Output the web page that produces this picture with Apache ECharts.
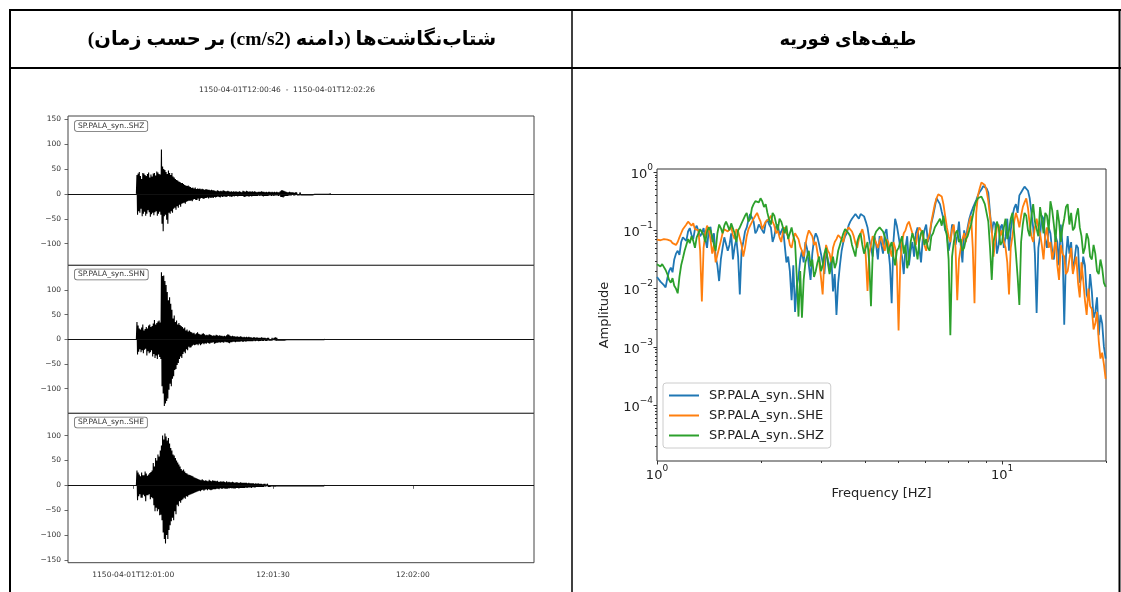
<!DOCTYPE html>
<html><head><meta charset="utf-8">
<script src="https://cdn.jsdelivr.net/npm/echarts@6/dist/echarts.min.js"></script>
<style>html,body{margin:0;padding:0;background:#fff}#c{width:1121px;height:592px}</style>
</head><body><div id="c"></div>
<script>
// ---------------- texts ----------------
const HEADER_LEFT = 'شتاب‌نگاشت‌ها (دامنه (cm/s2) بر حسب زمان)';
const HEADER_RIGHT = 'طیف‌های فوریه';
const SEIS_TITLE = '1150-04-01T12:00:46  -  1150-04-01T12:02:26';
const TRACE_NAMES = ['SP.PALA_syn..SHZ', 'SP.PALA_syn..SHN', 'SP.PALA_syn..SHE'];
const SPEC_NAMES = ['SP.PALA_syn..SHN', 'SP.PALA_syn..SHE', 'SP.PALA_syn..SHZ'];

// ---------------- seismograms (seconds after 12:00:00) ----------------
const TIME_START = 46, TIME_END = 146;
const TIME_TICKS = [60, 90, 120];
const TIME_TICK_LABELS = ['1150-04-01T12:01:00', '12:01:30', '12:02:00'];
const AMP_TICKS = [-150, -100, -50, 0, 50, 100, 150];
const PANEL_LIMITS = [[-143.5, 156.5], [-149.9, 149.9], [-155.5, 144.8]];
const SAMPLE_START = 60.675, SAMPLE_STEP = 0.125;
const SHZ_ACC = [0,
 38,-42,41,-35,44,-38,36,-30,30,-45,42,-40,41,-36,38,-44,36,-40,40,-33,43,-37,33,-46,39,-41,35,-38,41,-43,42,-37,37,-35,45,-44,43,-40,40,-36,39,-42,
 89,-60,55,-75,
 50,-45,48,-42,44,-52,40,-60,47,-38,42,-40,38,-35,42,-38,
 35,-30,33,-28,30,-32,28,-25,27,-28,25,-22,24,-26,22,-20,22,-19,20,-18,18,-20,17,-16,16,-15,17,-14,15,-14,
 14,-13,12,-15,13,-11,11,-10,13,-12,10,-12,11,-9,10,-14,11,-9,9,-8,10,-9,9,-10,8,-8,9,-8,9,-7,8,-9,8,-7,7,-8,8,-7,7,-8,
 7,-6,6,-7,5,-6,7,-5,6,-6, 5,-7,6,-5,5,-6,7,-5,6,-5, 5,-6,5,-5,6,-4,5,-5,4,-5, 5,-6,4,-4,5,-5,4,-4,5,-4,
 4,-5,4,-4,5,-4,4,-4,3,-4, 6,-5,5,-6,4,-5,6,-4,5,-5, 4,-5,5,-4,4,-5,5,-4,4,-4, 5,-4,4,-4,3,-4,4,-3,4,-4,
 4,-3,5,-4,4,-5,4,-4,3,-4, 4,-4,3,-4,4,-3,4,-3,3,-4, 4,-3,3,-4,4,-3,3,-3,4,-3, 3,-4,3,-3,
 5,-6,7,-6,7,-7,6,-5,5,-4,4,-4,
 3,-4,3,-3,4,-3,3,-3,3,-2, 3,-3,2,-3,3,-2,3,-2,2,-3, 2,-2,3,-2,2,-2,2,-2,2,-2, 2,-2,2,-1,2,-2,2,-1,1,-2,
 2,-1,1,-2,1,-1,2,-1,1,-1, 1,-1,1,-1,1,-1,1,-1,1,-1, 1,-1,1,-1,1,-1,1,-1,1,-1, 1,-1,1,-1,1,
 0];
const SHN_ACC = [0,
 35,-31,28,-25,22,-20,20,-26,24,-22,30,-28,18,-21,21,-19,25,-33,22,-24,28,-28,30,-26,25,-22,27,-35,32,-30,39,-38,30,-33,33,-40,36,-31,38,-36,34,-40,
 136,-95,128,-110,129,-135,118,-130,110,-125,96,-120,79,-102,85,-90,72,-95,60,-80,
 42,-75,48,-62,35,-60,38,-52,30,-48,33,-40,29,-35,27,-38,25,-30,
 22,-25,24,-28,18,-20,20,-22,16,-15,18,-17,15,-16,14,-13,
 12,-11,13,-12,10,-11,12,-10,14,-12, 11,-9,10,-12,9,-10,11,-8,12,-10, 10,-8,8,-9,9,-7,8,-8,10,-9, 9,-7,8,-7,7,-6,8,-9,7,-8,
 9,-7,8,-7,7,-6,8,-7,7,-6, 7,-6,6,-7,7,-5,6,-6,8,-6, 10,-7,9,-8,7,-6,6,-6,7,-5, 6,-5,6,-6,5,-5,6,-5,5,-5,
 5,-5,6,-4,5,-5,4,-5,5,-4, 4,-5,5,-4,4,-4,5,-4,4,-4, 4,-4,3,-4,4,-3,4,-4,3,-3, 4,-3,3,-4,3,-3,3,-3,4,-3,
 3,-3,3,-2,3,-3,2,-3,3,-2, 3,-2,2,-3,2,-2,3,-2,2,-2, 3,-2,4,-3,3,-2,2,-2,2,-2, 2,-2,2,-2,2,-1,2,-2,2,-1,
 2,-1,1,-2,2,-1,1,-1,2,-1, 1,-1,1,-1,2,-1,1,-1,1,-1, 1,-1,1,-1,1,-1,1,-1,1,-1, 1,-1,1,-1,1,-1,1,-1,1,-1,
 1,-1,1,-1,1,-1,1,-1,1,-1, 1,-1,1,-1,1,-1,1,-1,1,-1, 1,-1,1,-1,1,-1,1,
 0];
const SHE_ACC = [0,
 30,-30,26,-22,22,-18,18,-25,26,-25,20,-19,20,-22,28,-32,24,-20,19,-20,22,-18,25,-28,27,-24,30,-26,
 45,-40,38,-52,55,-45,50,-52,62,-48,58,-60,70,-59,80,-70,
 100,-95,92,-108,104,-117,98,-100,90,-108,95,-90,
 84,-80,75,-72,70,-65,62,-70,60,-52,55,-58,
 50,-39,46,-42,42,-32,38,-35,33,-30,30,-28,32,-25,28,-27,
 25,-22,24,-23,22,-20,21,-19,20,-18,19,-17,18,-16,16,-15,15,-14,14,-13,
 13,-12,12,-11,11,-12,10,-10,12,-9, 10,-11,9,-9,10,-8,9,-10,8,-8, 11,-9,9,-10,8,-9,10,-8,9,-8, 9,-8,8,-7,9,-7,7,-8,7,-6,
 8,-7,7,-7,8,-6,7,-7,6,-7, 8,-7,6,-6,7,-6,6,-5,6,-6, 7,-6,6,-6,5,-6,6,-5,6,-5, 5,-6,5,-5,6,-5,5,-5,5,-5,
 5,-5,5,-4,5,-5,4,-4,5,-4, 4,-4,4,-5,4,-3,4,-4,3,-4, 4,-3,3,-3,4,-3,3,-3,3,-3, 3,-3,2,-3,3,-2,3,-2,2,-2,
 3,-2,2,-2,2,-2,2,-2,2,-1, 2,-2,1,-2,2,-1,2,-1,1,-1, 2,-1,1,-2,1,-1,2,-1,1,-1, 1,-1,1,-1,1,-1,1,-1,1,-1,
 1,-1,1,-1,1,-1,1,-1,1,-1, 1,-1,1,-1,1,-1,1,-1,1,-1, 1,-1,1,-1,1,-1,1,-1,1,-1, 1,-1,1,-1,1,-1,1,-1,1,-1,
 1,-1,1,-1,1,-1,1,-1,1,-1, 1,-1,1,-1,1,-1,1,-1,1,
 0];
const TRACES = [SHZ_ACC, SHN_ACC, SHE_ACC];

// ---------------- Fourier spectra (log10 amplitude on grid f = 10^(k*step)) ----------------
const FREQ_MIN = 1, FREQ_MAX = 20, SPEC_LOGF_STEP = 0.005;
const AMP_MIN = 1.1e-5, AMP_MAX = 1.13;
const FREQ_TICKS = [1, 10];
const FREQ_MINOR_TICKS = [2, 3, 4, 5, 6, 7, 8, 9, 20];
const AMP_LOG_TICKS = [1e-4, 1e-3, 1e-2, 1e-1, 1];
const SHN_LOG_AMP = [
-1.80,-1.80,-1.88,-1.90,-1.94,-1.98,-1.82,-1.70,-1.64,-1.72,-1.50,-1.40,-1.35,-1.42,-1.20,-1.12,-1.10,-1.18,-1.02,-0.96,
-1.08,-1.15,-0.98,-0.92,-0.93,-1.10,-1.05,-0.96,-1.15,-1.30,-1.00,-0.94,-1.20,-1.05,-1.45,-1.60,-1.87,-1.50,-1.30,-1.12,
-1.10,-1.35,-1.25,-1.05,-1.50,-1.28,-1.15,-1.45,-2.10,-1.35,-1.20,-1.02,-0.95,-0.82,-0.72,-0.78,-0.85,-1.05,-1.00,-0.90,
-0.88,-1.00,-1.05,-0.86,-0.82,-0.90,-0.95,-1.20,-1.10,-0.94,-0.90,-1.08,-1.02,-0.95,-1.25,-1.55,-1.45,-1.70,-2.20,-1.60,
-2.40,-1.95,-1.80,-1.50,-1.35,-1.55,-1.20,-1.32,-1.60,-1.85,-1.40,-1.15,-1.05,-1.12,-1.25,-1.40,-1.55,-1.75,-1.35,-1.50,
-1.70,-1.45,-2.05,-1.75,-2.45,-1.90,-1.60,-1.35,-1.20,-1.10,-1.05,-0.92,-0.85,-0.80,-0.78,-0.72,-0.74,-0.80,-0.72,-0.75,
-0.76,-0.85,-0.95,-1.15,-1.30,-1.45,-1.10,-1.25,-1.50,-1.10,-1.25,-1.40,-1.05,-0.98,-1.30,-1.60,-2.25,-1.20,-0.80,-0.92,
-1.10,-1.30,-1.45,-1.75,-1.30,-1.10,-1.60,-1.35,-1.20,-1.45,-1.05,-0.95,-1.30,-1.55,-1.15,-1.00,-0.90,-1.20,-1.10,-0.88,
-0.75,-0.60,-0.45,-0.42,-0.55,-0.68,-0.80,-1.00,-1.05,-1.35,-1.20,-0.90,-0.95,-1.25,-1.10,-0.85,-1.25,-1.55,-1.00,-1.15,
-0.95,-0.80,-0.70,-0.62,-0.55,-0.48,-0.40,-0.34,-0.30,-0.24,-0.22,-0.28,-0.35,-0.70,-1.05,-0.85,-0.90,-1.40,-1.25,-0.95,
-0.90,-1.30,-1.10,-0.80,-1.35,-1.00,-0.75,-0.62,-0.55,-0.70,-0.40,-0.35,-0.30,-0.25,-0.22,-0.32,-0.45,-0.70,-0.95,-1.40,
-2.42,-1.30,-1.10,-0.75,-0.80,-1.15,-1.30,-0.95,-1.05,-1.35,-1.50,-1.10,-1.20,-1.60,-0.90,-1.25,-2.62,-1.45,-1.10,-1.40,
-1.20,-1.70,-1.50,-1.25,-1.30,-1.90,-1.80,-1.45,-1.60,-2.10,-2.20,-1.75,-2.05,-2.50,-2.40,-2.15,-2.80,-2.45,-2.60,-3.00,
-3.20];
const SHE_LOG_AMP = [
-1.16,-1.15,-1.17,-1.16,-1.15,-1.17,-1.16,-1.14,-1.18,-1.22,-1.24,-1.25,-1.20,-1.12,-1.05,-0.98,-0.95,-0.90,-0.85,-0.88,
-0.92,-0.88,-0.98,-0.95,-1.00,-1.35,-2.22,-1.30,-1.05,-0.92,-0.98,-1.15,-1.40,-1.25,-1.55,-1.42,-1.30,-1.18,-1.05,-0.98,
-0.95,-1.02,-1.00,-0.94,-1.08,-1.15,-0.98,-1.02,-1.05,-1.25,-1.45,-1.30,-1.10,-0.98,-0.92,-0.86,-0.80,-0.75,-0.70,-0.78,
-0.85,-0.98,-0.95,-0.85,-0.88,-0.80,-0.75,-0.85,-0.92,-1.05,-1.00,-1.12,-1.20,-1.02,-0.95,-1.05,-1.10,-1.25,-1.30,-1.15,
-1.05,-1.10,-1.15,-1.28,-1.35,-1.45,-1.25,-1.10,-1.00,-1.05,-1.10,-1.25,-1.20,-1.38,-1.55,-1.80,-2.10,-1.50,-1.25,-1.35,
-1.40,-1.55,-1.30,-1.20,-1.15,-1.08,-1.05,-1.15,-1.20,-1.05,-1.00,-0.95,-0.92,-1.02,-1.10,-1.22,-1.30,-1.15,-1.05,-0.98,
-1.10,-1.45,-2.04,-1.40,-1.25,-1.10,-1.15,-1.22,-1.30,-1.18,-1.10,-1.25,-1.35,-1.15,-1.20,-1.32,-1.45,-1.20,-1.30,-1.60,
-2.72,-1.55,-1.20,-1.05,-1.00,-0.90,-0.85,-0.95,-1.05,-1.15,-1.25,-1.05,-0.95,-1.00,-1.10,-1.25,-1.35,-1.15,-1.05,-0.85,
-0.70,-0.55,-0.45,-0.38,-0.36,-0.42,-0.55,-0.75,-0.95,-1.10,-1.20,-1.00,-0.90,-1.30,-2.20,-1.50,-1.30,-1.15,-1.05,-1.20,
-1.00,-0.85,-0.75,-1.30,-2.25,-0.70,-0.40,-0.28,-0.18,-0.20,-0.22,-0.32,-0.50,-0.75,-1.00,-1.45,-1.20,-0.95,-0.90,-1.10,
-1.00,-1.20,-1.30,-1.55,-2.10,-1.30,-1.10,-0.85,-0.70,-0.80,-0.95,-0.75,-0.60,-0.52,-0.45,-0.62,-0.90,-1.10,-1.20,-0.95,
-0.80,-0.95,-1.05,-1.25,-1.50,-1.10,-0.95,-1.30,-1.20,-1.50,-1.35,-1.15,-1.60,-1.85,-1.25,-1.40,-1.45,-1.75,-1.70,-1.50,
-1.30,-1.75,-1.60,-1.45,-1.90,-2.15,-1.55,-1.85,-2.20,-2.45,-2.00,-2.30,-2.35,-2.70,-2.60,-2.40,-2.90,-3.20,-3.10,-3.30,
-3.55];
const SHZ_LOG_AMP = [
-1.58,-1.60,-1.62,-1.58,-1.60,-1.68,-1.75,-1.85,-1.90,-1.82,-1.95,-2.00,-2.08,-1.80,-1.60,-1.48,-1.35,-1.25,-1.15,-1.22,
-1.10,-1.18,-1.30,-1.12,-1.05,-0.98,-1.00,-1.08,-1.20,-1.02,-0.95,-1.00,-1.10,-1.25,-1.35,-1.05,-0.90,-0.96,-1.05,-0.92,
-0.85,-0.92,-1.00,-0.88,-0.90,-1.05,-1.20,-1.00,-0.95,-0.88,-0.85,-0.75,-0.70,-0.85,-0.80,-0.62,-0.55,-0.50,-0.48,-0.52,
-0.45,-0.50,-0.60,-0.55,-0.70,-0.82,-0.90,-0.70,-0.75,-0.88,-1.00,-0.80,-0.85,-0.95,-1.05,-0.92,-1.15,-1.05,-0.95,-1.10,
-1.20,-1.80,-2.48,-1.70,-2.50,-1.85,-1.55,-1.45,-1.35,-1.62,-1.50,-1.80,-1.70,-1.55,-1.45,-1.70,-1.60,-1.40,-1.30,-1.55,
-1.75,-1.60,-1.45,-1.65,-1.55,-1.35,-1.25,-1.15,-1.05,-0.98,-1.00,-1.05,-1.10,-1.25,-1.35,-1.45,-1.20,-1.10,-1.05,-1.25,
-1.40,-1.30,-1.20,-1.55,-2.30,-1.40,-1.10,-1.02,-1.00,-0.95,-0.98,-1.02,-1.05,-1.20,-1.40,-1.28,-1.20,-1.45,-1.60,-1.35,
-1.30,-1.20,-1.10,-1.40,-1.25,-1.65,-1.50,-1.20,-1.05,-1.15,-1.30,-1.50,-1.20,-1.05,-1.00,-1.25,-1.15,-1.30,-1.35,-1.10,
-1.05,-0.95,-0.90,-0.85,-0.80,-0.92,-0.75,-0.95,-1.10,-1.50,-2.80,-1.45,-1.20,-1.05,-1.00,-1.20,-1.15,-1.35,-1.30,-1.15,
-1.10,-1.00,-0.90,-0.75,-0.60,-0.50,-0.45,-0.43,-0.42,-0.48,-0.55,-0.70,-0.85,-1.30,-1.85,-1.20,-1.05,-0.85,-0.95,-1.25,
-1.20,-0.95,-0.80,-1.15,-1.00,-0.80,-0.70,-1.05,-1.40,-1.80,-2.28,-1.20,-0.90,-0.70,-0.75,-1.00,-1.10,-0.75,-0.55,-0.85,
-0.85,-1.10,-0.60,-0.80,-1.05,-0.70,-0.75,-1.00,-0.50,-0.65,-0.90,-1.20,-0.65,-0.85,-1.20,-0.95,-0.80,-0.60,-0.55,-0.90,
-0.70,-1.00,-0.95,-0.75,-0.62,-0.95,-1.10,-1.40,-1.30,-1.05,-1.15,-1.45,-1.50,-1.25,-1.40,-1.70,-1.75,-1.50,-1.65,-1.90,
-1.97];
const SPECTRA = [SHN_LOG_AMP, SHE_LOG_AMP, SHZ_LOG_AMP];
const SPEC_COLORS = ['#1f77b4', '#ff7f0e', '#2ca02c'];

// ---------------- build ----------------
const AMP_MINOR_TICKS = [];
for (let e = -5; e <= -1; e++) for (let m = 2; m <= 9; m++) AMP_MINOR_TICKS.push(+(m * Math.pow(10, e)).toPrecision(3));

function traceData(arr) {
  return arr.map((v, i) => [SAMPLE_START + i * SAMPLE_STEP, v]);
}
function specData(arr) {
  return arr.map((v, k) => [Math.pow(10, k * SPEC_LOGF_STEP), Math.pow(10, v)]);
}
const SMALL = {fontSize: 7.5, color: '#333', fontFamily: 'DejaVu Sans'};
const logFmt = v => { const e = Math.round(Math.log10(v)); return '{b|10}{s|' + (e < 0 ? '\u2212' : '') + Math.abs(e) + '}'; };
const logRich = {b: {fontSize: 13, lineHeight: 18, verticalAlign: 'bottom', color: '#222', fontFamily: 'DejaVu Sans'},
                 s: {fontSize: 9, lineHeight: 18, verticalAlign: 'top', color: '#222', fontFamily: 'DejaVu Sans'}};

const PANEL_TOPS = [116, 265.3, 413.3], PANEL_BOTTOMS = [265.3, 413.3, 562.7];
const grids = [], xAxes = [], yAxes = [], series = [];
for (let p = 0; p < 3; p++) {
  grids.push({left: 68, top: PANEL_TOPS[p], width: 466, height: PANEL_BOTTOMS[p] - PANEL_TOPS[p],
    show: true, borderColor: '#444', borderWidth: 1, backgroundColor: 'transparent', outerBoundsMode: 'none'});
  const last = p === 2;
  xAxes.push({type: 'value', gridIndex: p, min: TIME_START, max: TIME_END,
    axisLine: {show: false}, splitLine: {show: false},
    axisTick: {show: last, customValues: TIME_TICKS, length: 3.5, lineStyle: {color: '#444', width: 0.8}},
    axisLabel: Object.assign({show: last, customValues: TIME_TICKS, margin: 8,
      formatter: v => TIME_TICK_LABELS[TIME_TICKS.indexOf(v)]}, SMALL)});
  yAxes.push({type: 'value', gridIndex: p, min: PANEL_LIMITS[p][0], max: PANEL_LIMITS[p][1],
    axisLine: {show: false}, splitLine: {show: false},
    axisTick: {show: true, customValues: AMP_TICKS, length: 3.5, lineStyle: {color: '#444', width: 0.8}},
    axisLabel: Object.assign({customValues: AMP_TICKS, margin: 7,
      formatter: v => String(v).replace('-', '\u2212')}, SMALL)});
  series.push({type: 'line', name: TRACE_NAMES[p] + ' trace', xAxisIndex: p, yAxisIndex: p,
    data: traceData(TRACES[p]), symbol: 'none', sampling: null,
    lineStyle: {color: '#000', width: 1.1}, itemStyle: {color: '#000'}, silent: true, z: 2,
    markLine: {silent: true, symbol: ['none', 'none'], label: {show: false}, animation: false,
      lineStyle: {color: '#111', width: 1, type: 'solid'}, data: [{yAxis: 0}]}});
}
grids.push({left: 657, top: 169, width: 449, height: 292, show: true, borderColor: '#333', borderWidth: 1,
  backgroundColor: 'transparent', outerBoundsMode: 'none'});
xAxes.push({type: 'log', logBase: 10, gridIndex: 3, min: FREQ_MIN, max: FREQ_MAX,
  axisLine: {show: false}, splitLine: {show: false},
  axisTick: {customValues: FREQ_TICKS, length: 3.5, lineStyle: {color: '#333'}},
  axisLabel: {customValues: FREQ_TICKS, formatter: logFmt, rich: logRich, margin: 3},
  name: 'Frequency [HZ]', nameLocation: 'middle', nameGap: 26,
  nameTextStyle: {fontSize: 13, color: '#222', fontFamily: 'DejaVu Sans'}});
xAxes.push({type: 'log', logBase: 10, gridIndex: 3, min: FREQ_MIN, max: FREQ_MAX, position: 'bottom',
  axisLine: {show: false}, splitLine: {show: false}, axisLabel: {show: false},
  axisTick: {customValues: FREQ_MINOR_TICKS, length: 2, lineStyle: {color: '#333'}}});
yAxes.push({type: 'log', logBase: 10, gridIndex: 3, min: AMP_MIN, max: AMP_MAX,
  axisLine: {show: false}, splitLine: {show: false},
  axisTick: {customValues: AMP_LOG_TICKS, length: 3.5, lineStyle: {color: '#333'}},
  axisLabel: {customValues: AMP_LOG_TICKS, formatter: logFmt, rich: logRich, margin: 4},
  name: 'Amplitude', nameLocation: 'middle', nameGap: 46, nameRotate: 90,
  nameTextStyle: {fontSize: 13, color: '#222', fontFamily: 'DejaVu Sans'}});
yAxes.push({type: 'log', logBase: 10, gridIndex: 3, min: AMP_MIN, max: AMP_MAX, position: 'left',
  axisLine: {show: false}, splitLine: {show: false}, axisLabel: {show: false},
  axisTick: {customValues: AMP_MINOR_TICKS, length: 2, lineStyle: {color: '#333'}}});
SPECTRA.forEach((arr, i) => series.push({type: 'line', name: SPEC_NAMES[i], xAxisIndex: 3, yAxisIndex: 3,
  data: specData(arr), symbol: 'none', color: SPEC_COLORS[i],
  lineStyle: {color: SPEC_COLORS[i], width: 1.8}, z: 3 + i}));

function txt(text, x, y, font, align, extra) {
  const st = Object.assign({text: text, x: x, y: y, font: font, fill: '#000', textFill: '#000',
    align: align, textAlign: align, verticalAlign: 'middle', textVerticalAlign: 'middle'}, extra || {});
  return {type: 'text', z: 10, silent: true, style: st};
}
function ln(x1, y1, x2, y2, w) {
  return {type: 'line', z: 10, silent: true, shape: {x1, y1, x2, y2}, style: {stroke: '#000', lineWidth: w}};
}
const graphics = [
  ln(9, 10, 1121, 10, 2), ln(10, 9, 10, 592, 2), ln(1119.5, 9, 1119.5, 592, 2),
  ln(10, 68, 1121, 68, 2), ln(572, 10, 572, 592, 1.5),
  txt('\u202B' + HEADER_LEFT + '\u202C', 292, 40, 'bold 19.5px "Liberation Serif", "DejaVu Sans"', 'center'),
  txt('\u202B' + HEADER_RIGHT + '\u202C', 848, 40, 'bold 18px "Liberation Serif", "DejaVu Sans"', 'center'),
  txt(SEIS_TITLE, 287, 90, '7.5px "DejaVu Sans"', 'center', {fill: '#333', textFill: '#333'})
];
const boxTops = [121, 269.5, 417.5];
TRACE_NAMES.forEach((n, i) => graphics.push(txt(n, 75, boxTops[i], '7.5px "DejaVu Sans"', 'left', {
  fill: '#333', textFill: '#333', verticalAlign: 'top', textVerticalAlign: 'top',
  backgroundColor: '#fff', textBackgroundColor: '#fff', borderColor: '#666', textBorderColor: '#666',
  borderWidth: 0.8, textBorderWidth: 0.8, borderRadius: 2, textBorderRadius: 2,
  padding: [1, 3, 1, 3], textPadding: [1, 3, 1, 3]})));

const option = {
  animation: false,
  backgroundColor: '#fff',
  grid: grids, xAxis: xAxes, yAxis: yAxes, series: series,
  legend: {data: SPEC_NAMES, orient: 'vertical', left: 663, top: 383, itemWidth: 30, itemHeight: 14, itemGap: 7,
    selectedMode: false, padding: [6, 6, 6, 5], borderColor: '#ccc', borderWidth: 1, borderRadius: 3,
    backgroundColor: 'rgba(255,255,255,0.85)', itemStyle: {opacity: 0},
    textStyle: {fontSize: 13, color: '#222', fontFamily: 'DejaVu Sans', padding: [0, 0, 0, 5]}},
  graphic: graphics
};
const chart = echarts.init(document.getElementById('c'), null, {renderer: 'canvas'});
chart.setOption(option);
</script></body></html>
